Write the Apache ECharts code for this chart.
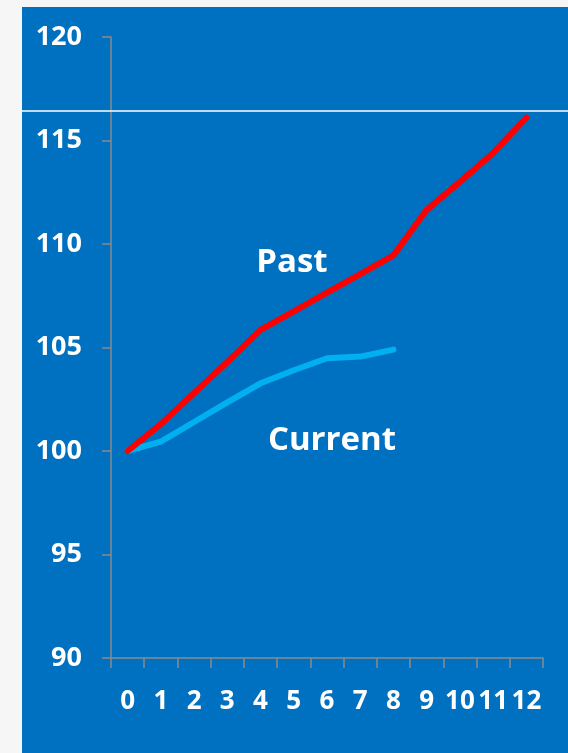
<!DOCTYPE html>
<html>
<head>
<meta charset="utf-8">
<script src="https://cdn.jsdelivr.net/npm/echarts@6/dist/echarts.min.js"></script>
<style>
  html, body { margin: 0; padding: 0; width: 568px; height: 753px; overflow: hidden; background: #f6f6f6; }
  #chart { position: absolute; left: 22px; top: 7px; width: 546px; height: 746px; }
</style>
</head>
<body>
<div id="chart"></div>
<script>
// Period index (x-axis categories)
const periods = ['0', '1', '2', '3', '4', '5', '6', '7', '8', '9', '10', '11', '12'];
// Index values, base 100
const pastValues = [100, 101.3, 102.8, 104.3, 105.85, 106.75, 107.65, 108.55, 109.45, 111.65, 113.0, 114.4, 116.1];
const currentValues = [100, 100.45, 101.4, 102.35, 103.27, 103.9, 104.48, 104.56, 104.9];
// Y axis scale
const yMin = 90;
const yMax = 120;
const yStep = 5;

const font = '"Open Sans", "Liberation Sans", sans-serif';
const axisGrey = '#8a8a8a';

const chart = echarts.init(document.getElementById('chart'));
chart.setOption({
  backgroundColor: '#0070C0',
  animation: false,
  grid: { left: 89, right: 25, top: 30, bottom: 95, containLabel: false },
  xAxis: {
    type: 'category',
    data: periods,
    boundaryGap: true,
    axisLine: { lineStyle: { color: axisGrey, width: 1.5 } },
    axisTick: { show: true, length: 10, alignWithLabel: false, interval: 0, lineStyle: { color: axisGrey, width: 1.5 } },
    axisLabel: { interval: 0, margin: 31, color: '#ffffff', fontFamily: font, fontWeight: 'bold', fontSize: 26 },
    splitLine: { show: false }
  },
  yAxis: {
    type: 'value',
    min: yMin,
    max: yMax,
    interval: yStep,
    axisLine: { show: true, lineStyle: { color: axisGrey, width: 1.5 } },
    axisTick: { show: true, length: 9, lineStyle: { color: axisGrey, width: 1.5 } },
    axisLabel: { margin: 29, color: '#ffffff', fontFamily: font, fontWeight: 'bold', fontSize: 27 },
    splitLine: { show: false }
  },
  series: [
    {
      name: 'Past',
      type: 'line',
      data: pastValues,
      showSymbol: false,
      symbol: 'none',
      lineStyle: { color: '#FF0000', width: 6, cap: 'round', join: 'round' },
      z: 3
    },
    {
      name: 'Current',
      type: 'line',
      data: currentValues,
      showSymbol: false,
      symbol: 'none',
      lineStyle: { color: '#00B0F0', width: 6, cap: 'round', join: 'round' },
      z: 2
    }
  ],
  graphic: [
    {
      type: 'line',
      shape: { x1: 0, y1: 104, x2: 546, y2: 104 },
      style: { stroke: '#ffffff', lineWidth: 1.5 },
      z: 10
    },
    {
      type: 'text',
      x: 270, y: 256,
      style: { text: 'Past', fill: '#ffffff', font: 'bold 33px ' + font, align: 'center', verticalAlign: 'middle' },
      z: 10
    },
    {
      type: 'text',
      x: 310, y: 434,
      style: { text: 'Current', fill: '#ffffff', font: 'bold 33px ' + font, align: 'center', verticalAlign: 'middle' },
      z: 10
    }
  ]
});
</script>
</body>
</html>
